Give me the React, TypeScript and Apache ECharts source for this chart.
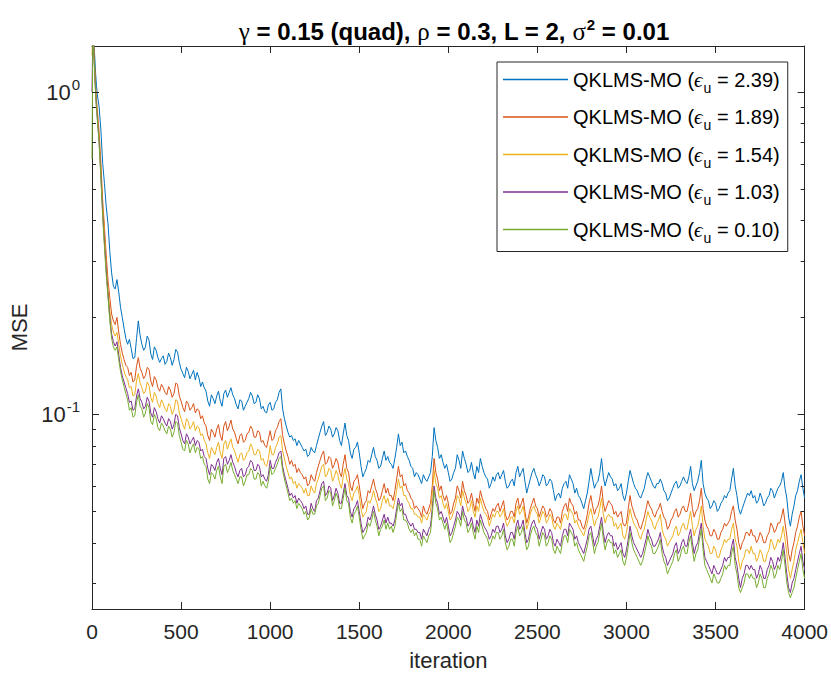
import React, { useEffect, useRef } from 'react';
import * as echarts from 'echarts';

// ---------- data ----------
const earlyIterations = [0, 5, 10, 15, 20, 25, 30, 40, 50, 60, 70, 80, 90, 100, 110, 120, 130, 140, 150, 160, 170, 180, 190];
const iterationStep = 10; // from 200 to 4000
const iterations: number[] = [...earlyIterations];
for (let it = 200; it <= 4000; it += iterationStep) iterations.push(it);

const epsLabels = ['2.39', '1.89', '1.54', '1.03', '0.10'];
const seriesColors = ['#0072BD', '#D95319', '#EDB120', '#7E2F8E', '#77AC30'];

const mseEps239 = [
  1.45, 1.52, 1.42, 1.30, 1.15, 1.05, 0.98, 0.90, 0.76, 0.60, 0.52, 0.44, 0.39, 0.32, 0.275, 0.25, 0.245, 0.262, 0.24, 0.215, 0.20, 0.185, 0.172,
  0.165, 0.171, 0.160, 0.149, 0.150, 0.172, 0.195, 0.176, 0.165, 0.158, 0.162, 0.175, 0.170, 0.154, 0.148, 0.162, 0.158, 0.150, 0.145, 0.149,
  0.152, 0.143, 0.146, 0.155, 0.150, 0.142, 0.148, 0.159, 0.156, 0.145, 0.138, 0.134, 0.130, 0.140, 0.136, 0.129, 0.133, 0.137, 0.128, 0.135,
  0.130, 0.122, 0.126, 0.121, 0.118, 0.110, 0.106, 0.115, 0.112, 0.108, 0.114, 0.118, 0.110, 0.106, 0.116, 0.119, 0.113, 0.117, 0.121, 0.115,
  0.112, 0.107, 0.104, 0.111, 0.110, 0.103, 0.106, 0.109, 0.112, 0.117, 0.114, 0.108, 0.109, 0.115, 0.112, 0.104, 0.106, 0.102, 0.101, 0.107,
  0.109, 0.103, 0.104, 0.109, 0.111, 0.117, 0.120, 0.104, 0.097, 0.092, 0.088, 0.085, 0.086, 0.083, 0.084, 0.080, 0.083, 0.081, 0.079, 0.077,
  0.078, 0.074, 0.075, 0.079, 0.077, 0.076, 0.080, 0.084, 0.088, 0.092, 0.095, 0.086, 0.088, 0.092, 0.090, 0.085, 0.087, 0.091, 0.089, 0.083,
  0.080, 0.087, 0.094, 0.086, 0.083, 0.076, 0.073, 0.078, 0.079, 0.082, 0.076, 0.069, 0.064, 0.066, 0.068, 0.072, 0.071, 0.075, 0.079, 0.074,
  0.072, 0.068, 0.069, 0.073, 0.077, 0.072, 0.074, 0.071, 0.070, 0.068, 0.073, 0.079, 0.087, 0.080, 0.082, 0.076, 0.077, 0.074, 0.072, 0.069,
  0.068, 0.064, 0.066, 0.065, 0.063, 0.061, 0.065, 0.063, 0.062, 0.064, 0.066, 0.074, 0.091, 0.083, 0.079, 0.073, 0.075, 0.071, 0.068, 0.070,
  0.066, 0.062, 0.063, 0.066, 0.068, 0.075, 0.072, 0.068, 0.077, 0.073, 0.070, 0.066, 0.067, 0.071, 0.066, 0.063, 0.069, 0.066, 0.073, 0.069,
  0.066, 0.064, 0.063, 0.059, 0.061, 0.064, 0.062, 0.065, 0.066, 0.063, 0.065, 0.067, 0.062, 0.059, 0.060, 0.062, 0.063, 0.060, 0.066, 0.069,
  0.064, 0.066, 0.068, 0.062, 0.057, 0.060, 0.063, 0.066, 0.068, 0.065, 0.063, 0.060, 0.062, 0.065, 0.064, 0.060, 0.061, 0.063, 0.062, 0.058,
  0.054, 0.056, 0.057, 0.055, 0.059, 0.061, 0.062, 0.059, 0.065, 0.063, 0.061, 0.057, 0.059, 0.056, 0.055, 0.053, 0.051, 0.054, 0.057, 0.062,
  0.068, 0.063, 0.059, 0.061, 0.062, 0.066, 0.073, 0.064, 0.060, 0.063, 0.066, 0.064, 0.063, 0.060, 0.061, 0.058, 0.059, 0.061, 0.056, 0.054,
  0.057, 0.062, 0.067, 0.064, 0.061, 0.059, 0.058, 0.056, 0.055, 0.057, 0.059, 0.063, 0.066, 0.064, 0.062, 0.060, 0.059, 0.061, 0.061, 0.063,
  0.061, 0.058, 0.057, 0.054, 0.055, 0.057, 0.059, 0.061, 0.062, 0.059, 0.060, 0.062, 0.064, 0.062, 0.061, 0.064, 0.069, 0.061, 0.058, 0.060,
  0.062, 0.066, 0.072, 0.061, 0.057, 0.055, 0.054, 0.051, 0.052, 0.054, 0.053, 0.050, 0.051, 0.053, 0.054, 0.056, 0.055, 0.057, 0.058, 0.063,
  0.068, 0.060, 0.056, 0.051, 0.049, 0.051, 0.053, 0.055, 0.057, 0.056, 0.058, 0.055, 0.056, 0.053, 0.054, 0.057, 0.055, 0.052, 0.053, 0.055,
  0.056, 0.059, 0.058, 0.055, 0.057, 0.059, 0.060, 0.062, 0.066, 0.059, 0.055, 0.048, 0.045, 0.049, 0.052, 0.056, 0.058, 0.062, 0.065, 0.059,
  0.055,
];

const mseEps189 = [
  1.40, 1.55, 1.38, 1.20, 1.05, 0.95, 0.88, 0.75, 0.60, 0.46, 0.38, 0.31, 0.26, 0.23, 0.205, 0.195, 0.19, 0.20, 0.18, 0.165, 0.155, 0.148, 0.142,
  0.140, 0.132, 0.135, 0.126, 0.128, 0.141, 0.150, 0.139, 0.135, 0.129, 0.132, 0.140, 0.138, 0.127, 0.122, 0.131, 0.128, 0.121, 0.118, 0.124,
  0.121, 0.117, 0.115, 0.122, 0.119, 0.113, 0.116, 0.125, 0.124, 0.114, 0.110, 0.105, 0.102, 0.110, 0.108, 0.103, 0.105, 0.108, 0.101, 0.104,
  0.103, 0.097, 0.099, 0.094, 0.092, 0.086, 0.083, 0.090, 0.088, 0.085, 0.090, 0.093, 0.086, 0.083, 0.092, 0.095, 0.089, 0.092, 0.096, 0.090,
  0.088, 0.084, 0.081, 0.086, 0.087, 0.082, 0.083, 0.087, 0.088, 0.092, 0.090, 0.085, 0.085, 0.089, 0.088, 0.082, 0.083, 0.080, 0.079, 0.084,
  0.089, 0.083, 0.084, 0.089, 0.091, 0.095, 0.097, 0.086, 0.081, 0.077, 0.074, 0.070, 0.072, 0.069, 0.070, 0.066, 0.068, 0.066, 0.065, 0.063,
  0.064, 0.060, 0.061, 0.065, 0.063, 0.062, 0.066, 0.069, 0.072, 0.075, 0.077, 0.070, 0.071, 0.074, 0.073, 0.068, 0.070, 0.073, 0.071, 0.066,
  0.064, 0.070, 0.075, 0.068, 0.066, 0.060, 0.058, 0.062, 0.063, 0.065, 0.060, 0.055, 0.051, 0.053, 0.054, 0.058, 0.057, 0.060, 0.063, 0.059,
  0.057, 0.054, 0.055, 0.058, 0.061, 0.057, 0.059, 0.056, 0.056, 0.054, 0.058, 0.063, 0.069, 0.064, 0.065, 0.060, 0.061, 0.058, 0.057, 0.055,
  0.054, 0.051, 0.052, 0.051, 0.050, 0.048, 0.052, 0.050, 0.049, 0.051, 0.053, 0.060, 0.073, 0.066, 0.063, 0.058, 0.060, 0.056, 0.054, 0.056,
  0.053, 0.049, 0.050, 0.053, 0.055, 0.060, 0.058, 0.055, 0.062, 0.058, 0.056, 0.053, 0.054, 0.057, 0.053, 0.050, 0.055, 0.053, 0.058, 0.055,
  0.053, 0.051, 0.050, 0.047, 0.049, 0.051, 0.050, 0.052, 0.053, 0.050, 0.052, 0.054, 0.049, 0.047, 0.048, 0.050, 0.050, 0.048, 0.053, 0.055,
  0.051, 0.053, 0.055, 0.050, 0.046, 0.048, 0.051, 0.053, 0.055, 0.052, 0.051, 0.048, 0.050, 0.052, 0.051, 0.048, 0.049, 0.051, 0.050, 0.047,
  0.046, 0.048, 0.048, 0.046, 0.050, 0.052, 0.053, 0.050, 0.055, 0.053, 0.052, 0.049, 0.050, 0.047, 0.047, 0.045, 0.044, 0.046, 0.049, 0.053,
  0.056, 0.052, 0.049, 0.051, 0.052, 0.055, 0.060, 0.053, 0.050, 0.052, 0.054, 0.053, 0.052, 0.049, 0.050, 0.048, 0.049, 0.050, 0.046, 0.045,
  0.046, 0.051, 0.056, 0.052, 0.050, 0.048, 0.047, 0.045, 0.044, 0.046, 0.048, 0.051, 0.054, 0.052, 0.051, 0.049, 0.048, 0.050, 0.051, 0.053,
  0.050, 0.048, 0.047, 0.044, 0.045, 0.047, 0.048, 0.050, 0.051, 0.048, 0.049, 0.051, 0.052, 0.050, 0.050, 0.053, 0.057, 0.051, 0.048, 0.050,
  0.051, 0.054, 0.059, 0.051, 0.047, 0.045, 0.044, 0.042, 0.042, 0.044, 0.043, 0.041, 0.041, 0.043, 0.044, 0.046, 0.045, 0.046, 0.047, 0.050,
  0.052, 0.047, 0.044, 0.040, 0.038, 0.040, 0.041, 0.043, 0.043, 0.042, 0.044, 0.042, 0.042, 0.040, 0.041, 0.043, 0.042, 0.040, 0.040, 0.042,
  0.043, 0.046, 0.045, 0.043, 0.044, 0.046, 0.046, 0.048, 0.051, 0.046, 0.042, 0.037, 0.035, 0.038, 0.040, 0.043, 0.045, 0.048, 0.050, 0.045,
  0.042,
];

const mseEps154 = [
  1.30, 1.55, 1.35, 1.18, 1.02, 0.92, 0.85, 0.72, 0.57, 0.44, 0.36, 0.29, 0.245, 0.21, 0.19, 0.18, 0.175, 0.18, 0.165, 0.152, 0.143, 0.136, 0.131,
  0.128, 0.121, 0.122, 0.114, 0.115, 0.127, 0.134, 0.125, 0.121, 0.116, 0.118, 0.126, 0.123, 0.113, 0.109, 0.117, 0.114, 0.108, 0.105, 0.111,
  0.108, 0.104, 0.102, 0.108, 0.106, 0.100, 0.103, 0.111, 0.110, 0.101, 0.097, 0.093, 0.090, 0.097, 0.095, 0.090, 0.092, 0.095, 0.089, 0.092,
  0.091, 0.086, 0.087, 0.083, 0.081, 0.076, 0.073, 0.079, 0.077, 0.075, 0.079, 0.082, 0.076, 0.073, 0.081, 0.083, 0.078, 0.081, 0.084, 0.079,
  0.077, 0.074, 0.071, 0.075, 0.076, 0.072, 0.073, 0.076, 0.077, 0.081, 0.079, 0.075, 0.075, 0.078, 0.077, 0.072, 0.073, 0.070, 0.069, 0.073,
  0.080, 0.075, 0.075, 0.079, 0.081, 0.085, 0.086, 0.077, 0.073, 0.069, 0.066, 0.063, 0.064, 0.061, 0.062, 0.059, 0.061, 0.060, 0.059, 0.057,
  0.059, 0.056, 0.056, 0.060, 0.058, 0.057, 0.061, 0.063, 0.066, 0.069, 0.070, 0.064, 0.065, 0.068, 0.067, 0.062, 0.064, 0.067, 0.065, 0.061,
  0.059, 0.064, 0.068, 0.063, 0.061, 0.056, 0.054, 0.057, 0.058, 0.060, 0.056, 0.051, 0.048, 0.049, 0.050, 0.054, 0.053, 0.055, 0.058, 0.055,
  0.053, 0.050, 0.051, 0.054, 0.056, 0.053, 0.055, 0.052, 0.052, 0.051, 0.054, 0.058, 0.063, 0.059, 0.060, 0.056, 0.056, 0.054, 0.053, 0.051,
  0.051, 0.049, 0.049, 0.048, 0.048, 0.046, 0.049, 0.048, 0.047, 0.049, 0.050, 0.057, 0.067, 0.061, 0.059, 0.055, 0.056, 0.053, 0.051, 0.053,
  0.050, 0.047, 0.048, 0.050, 0.052, 0.056, 0.055, 0.052, 0.058, 0.055, 0.053, 0.050, 0.051, 0.054, 0.050, 0.048, 0.052, 0.050, 0.055, 0.052,
  0.050, 0.049, 0.048, 0.045, 0.047, 0.049, 0.048, 0.050, 0.050, 0.048, 0.049, 0.051, 0.047, 0.045, 0.046, 0.048, 0.048, 0.046, 0.050, 0.052,
  0.049, 0.050, 0.052, 0.048, 0.044, 0.046, 0.049, 0.051, 0.052, 0.050, 0.049, 0.046, 0.048, 0.050, 0.049, 0.046, 0.047, 0.049, 0.048, 0.045,
  0.044, 0.046, 0.045, 0.044, 0.047, 0.049, 0.049, 0.047, 0.051, 0.050, 0.049, 0.046, 0.047, 0.045, 0.044, 0.043, 0.042, 0.044, 0.046, 0.049,
  0.051, 0.048, 0.045, 0.047, 0.048, 0.051, 0.055, 0.049, 0.046, 0.048, 0.049, 0.048, 0.048, 0.045, 0.046, 0.044, 0.045, 0.046, 0.042, 0.041,
  0.043, 0.047, 0.051, 0.048, 0.046, 0.045, 0.044, 0.042, 0.041, 0.043, 0.044, 0.047, 0.050, 0.048, 0.047, 0.045, 0.044, 0.046, 0.047, 0.049,
  0.044, 0.042, 0.041, 0.039, 0.040, 0.041, 0.042, 0.044, 0.045, 0.042, 0.043, 0.045, 0.046, 0.044, 0.044, 0.047, 0.050, 0.045, 0.042, 0.044,
  0.045, 0.048, 0.052, 0.045, 0.041, 0.040, 0.039, 0.037, 0.037, 0.039, 0.038, 0.036, 0.036, 0.038, 0.039, 0.041, 0.040, 0.041, 0.041, 0.044,
  0.046, 0.041, 0.039, 0.035, 0.033, 0.035, 0.036, 0.038, 0.038, 0.037, 0.039, 0.037, 0.037, 0.035, 0.036, 0.038, 0.037, 0.035, 0.035, 0.037,
  0.038, 0.041, 0.040, 0.038, 0.039, 0.041, 0.040, 0.042, 0.045, 0.041, 0.037, 0.033, 0.031, 0.033, 0.035, 0.038, 0.040, 0.042, 0.044, 0.040,
  0.037,
];

const mseEps103 = [
  1.00, 1.55, 1.33, 1.16, 1.00, 0.90, 0.83, 0.70, 0.55, 0.42, 0.34, 0.28, 0.235, 0.20, 0.178, 0.168, 0.163, 0.168, 0.153, 0.14, 0.132, 0.126, 0.121,
  0.116, 0.109, 0.110, 0.103, 0.104, 0.114, 0.120, 0.112, 0.109, 0.104, 0.106, 0.113, 0.110, 0.101, 0.098, 0.105, 0.102, 0.097, 0.094, 0.099,
  0.097, 0.094, 0.092, 0.097, 0.095, 0.090, 0.093, 0.100, 0.099, 0.091, 0.087, 0.083, 0.081, 0.087, 0.085, 0.081, 0.083, 0.085, 0.080, 0.083,
  0.082, 0.077, 0.078, 0.074, 0.073, 0.068, 0.065, 0.070, 0.069, 0.067, 0.071, 0.073, 0.068, 0.065, 0.073, 0.074, 0.070, 0.072, 0.075, 0.071,
  0.069, 0.066, 0.064, 0.067, 0.068, 0.064, 0.065, 0.068, 0.069, 0.072, 0.071, 0.067, 0.067, 0.070, 0.069, 0.064, 0.065, 0.063, 0.062, 0.065,
  0.072, 0.068, 0.068, 0.071, 0.073, 0.076, 0.077, 0.069, 0.065, 0.062, 0.059, 0.056, 0.057, 0.055, 0.056, 0.053, 0.055, 0.054, 0.053, 0.051,
  0.052, 0.049, 0.049, 0.053, 0.051, 0.050, 0.054, 0.055, 0.058, 0.061, 0.062, 0.056, 0.057, 0.060, 0.059, 0.054, 0.056, 0.059, 0.057, 0.053,
  0.053, 0.057, 0.061, 0.056, 0.055, 0.050, 0.048, 0.051, 0.052, 0.054, 0.050, 0.046, 0.043, 0.044, 0.045, 0.048, 0.047, 0.049, 0.052, 0.049,
  0.047, 0.044, 0.045, 0.047, 0.049, 0.046, 0.048, 0.046, 0.046, 0.045, 0.047, 0.051, 0.055, 0.052, 0.053, 0.049, 0.049, 0.047, 0.046, 0.045,
  0.046, 0.044, 0.044, 0.043, 0.043, 0.041, 0.044, 0.043, 0.042, 0.044, 0.045, 0.051, 0.060, 0.055, 0.053, 0.049, 0.050, 0.048, 0.046, 0.048,
  0.045, 0.042, 0.043, 0.045, 0.047, 0.050, 0.049, 0.047, 0.052, 0.049, 0.048, 0.045, 0.046, 0.048, 0.045, 0.043, 0.047, 0.045, 0.049, 0.047,
  0.045, 0.044, 0.043, 0.041, 0.042, 0.044, 0.043, 0.045, 0.045, 0.043, 0.044, 0.046, 0.042, 0.040, 0.041, 0.043, 0.043, 0.041, 0.045, 0.047,
  0.044, 0.045, 0.047, 0.043, 0.040, 0.041, 0.044, 0.046, 0.047, 0.045, 0.044, 0.041, 0.043, 0.045, 0.044, 0.041, 0.042, 0.044, 0.043, 0.040,
  0.039, 0.041, 0.040, 0.039, 0.042, 0.044, 0.044, 0.042, 0.046, 0.045, 0.044, 0.041, 0.042, 0.040, 0.039, 0.038, 0.037, 0.039, 0.041, 0.044,
  0.045, 0.042, 0.039, 0.041, 0.042, 0.045, 0.048, 0.043, 0.040, 0.042, 0.043, 0.042, 0.042, 0.039, 0.040, 0.038, 0.039, 0.040, 0.037, 0.036,
  0.038, 0.041, 0.045, 0.042, 0.040, 0.039, 0.038, 0.037, 0.036, 0.037, 0.039, 0.041, 0.044, 0.042, 0.041, 0.039, 0.039, 0.040, 0.041, 0.043,
  0.039, 0.037, 0.036, 0.034, 0.035, 0.036, 0.037, 0.039, 0.040, 0.037, 0.038, 0.040, 0.041, 0.039, 0.039, 0.042, 0.044, 0.040, 0.037, 0.039,
  0.040, 0.043, 0.046, 0.040, 0.036, 0.035, 0.034, 0.033, 0.032, 0.034, 0.033, 0.032, 0.032, 0.033, 0.034, 0.036, 0.035, 0.036, 0.036, 0.039,
  0.041, 0.036, 0.034, 0.031, 0.029, 0.031, 0.032, 0.034, 0.034, 0.033, 0.034, 0.033, 0.033, 0.031, 0.032, 0.034, 0.033, 0.031, 0.031, 0.033,
  0.034, 0.036, 0.035, 0.033, 0.034, 0.036, 0.035, 0.037, 0.040, 0.036, 0.032, 0.029, 0.028, 0.030, 0.031, 0.033, 0.035, 0.037, 0.039, 0.035,
  0.033,
];

const mseEps010 = [
  0.62, 1.55, 1.32, 1.15, 0.99, 0.89, 0.82, 0.69, 0.54, 0.41, 0.33, 0.27, 0.23, 0.195, 0.172, 0.162, 0.158, 0.162, 0.148, 0.136, 0.128, 0.122, 0.116,
  0.111, 0.103, 0.105, 0.098, 0.099, 0.109, 0.115, 0.106, 0.104, 0.098, 0.101, 0.108, 0.105, 0.095, 0.093, 0.100, 0.097, 0.091, 0.089, 0.094,
  0.092, 0.089, 0.087, 0.092, 0.090, 0.085, 0.088, 0.095, 0.094, 0.086, 0.082, 0.078, 0.077, 0.083, 0.081, 0.076, 0.079, 0.081, 0.076, 0.079,
  0.078, 0.073, 0.074, 0.070, 0.069, 0.063, 0.061, 0.066, 0.065, 0.063, 0.067, 0.069, 0.064, 0.061, 0.069, 0.070, 0.066, 0.068, 0.071, 0.067,
  0.065, 0.063, 0.061, 0.064, 0.064, 0.060, 0.062, 0.065, 0.065, 0.068, 0.067, 0.063, 0.063, 0.066, 0.065, 0.060, 0.062, 0.060, 0.059, 0.062,
  0.069, 0.065, 0.066, 0.068, 0.070, 0.073, 0.074, 0.067, 0.063, 0.060, 0.057, 0.054, 0.055, 0.053, 0.054, 0.051, 0.053, 0.052, 0.051, 0.049,
  0.050, 0.047, 0.048, 0.051, 0.049, 0.049, 0.052, 0.053, 0.056, 0.059, 0.060, 0.054, 0.055, 0.058, 0.057, 0.052, 0.054, 0.057, 0.055, 0.051,
  0.051, 0.055, 0.059, 0.054, 0.053, 0.048, 0.046, 0.049, 0.050, 0.052, 0.048, 0.044, 0.041, 0.042, 0.043, 0.046, 0.045, 0.047, 0.050, 0.047,
  0.045, 0.042, 0.044, 0.045, 0.047, 0.044, 0.046, 0.044, 0.045, 0.043, 0.045, 0.049, 0.053, 0.050, 0.051, 0.047, 0.047, 0.046, 0.044, 0.043,
  0.044, 0.042, 0.043, 0.041, 0.041, 0.039, 0.042, 0.041, 0.040, 0.042, 0.043, 0.049, 0.058, 0.053, 0.051, 0.047, 0.048, 0.046, 0.044, 0.046,
  0.043, 0.040, 0.041, 0.043, 0.045, 0.048, 0.047, 0.045, 0.050, 0.047, 0.046, 0.043, 0.044, 0.046, 0.043, 0.041, 0.045, 0.043, 0.047, 0.045,
  0.043, 0.042, 0.041, 0.039, 0.040, 0.042, 0.041, 0.043, 0.043, 0.041, 0.042, 0.044, 0.040, 0.038, 0.039, 0.041, 0.041, 0.039, 0.043, 0.045,
  0.042, 0.043, 0.045, 0.041, 0.038, 0.039, 0.042, 0.044, 0.045, 0.043, 0.042, 0.039, 0.041, 0.043, 0.042, 0.039, 0.040, 0.042, 0.041, 0.038,
  0.037, 0.039, 0.038, 0.037, 0.040, 0.042, 0.042, 0.040, 0.044, 0.043, 0.042, 0.039, 0.040, 0.038, 0.037, 0.036, 0.035, 0.037, 0.039, 0.042,
  0.043, 0.040, 0.037, 0.039, 0.040, 0.043, 0.046, 0.041, 0.038, 0.040, 0.041, 0.040, 0.040, 0.037, 0.038, 0.036, 0.037, 0.038, 0.035, 0.034,
  0.036, 0.039, 0.043, 0.040, 0.038, 0.037, 0.036, 0.035, 0.034, 0.035, 0.037, 0.039, 0.042, 0.040, 0.039, 0.037, 0.037, 0.038, 0.039, 0.041,
  0.037, 0.035, 0.034, 0.032, 0.033, 0.034, 0.035, 0.037, 0.038, 0.035, 0.036, 0.038, 0.039, 0.037, 0.037, 0.040, 0.042, 0.038, 0.035, 0.037,
  0.038, 0.041, 0.044, 0.038, 0.034, 0.033, 0.032, 0.031, 0.030, 0.032, 0.031, 0.030, 0.030, 0.031, 0.032, 0.034, 0.033, 0.034, 0.034, 0.037,
  0.039, 0.034, 0.032, 0.029, 0.028, 0.029, 0.030, 0.032, 0.032, 0.031, 0.032, 0.031, 0.031, 0.029, 0.030, 0.032, 0.031, 0.029, 0.029, 0.031,
  0.032, 0.034, 0.033, 0.031, 0.032, 0.034, 0.033, 0.035, 0.038, 0.034, 0.030, 0.028, 0.027, 0.028, 0.029, 0.031, 0.033, 0.035, 0.037, 0.033,
  0.031,
];

const mseSeries = [mseEps239, mseEps189, mseEps154, mseEps103, mseEps010];

const yMajorTicks = [0.1, 1];
const yMinorTicks = [0.03, 0.04, 0.05, 0.06, 0.07, 0.08, 0.09, 0.2, 0.3, 0.4, 0.5, 0.6, 0.7, 0.8, 0.9];

const xMin = 0;
const xMax = 4000;
const xInterval = 500;
const yMin = 0.0249;
const yMax = 1.39;

const titleText = '{g|γ} = 0.15 (quad), {g|ρ} = 0.3, L = 2, {g|σ}{s|2} = 0.01';

// ---------- chart ----------
const FONT = '"Liberation Sans", Arial, Helvetica, sans-serif';
const SERIF = '"Liberation Serif", "DejaVu Serif", serif';
const AX = '#262626';

export default function App() {
  const ref = useRef<HTMLDivElement>(null);

  useEffect(() => {
    if (!ref.current) return;
    const chart = echarts.init(ref.current, undefined, { renderer: 'svg' });

    const names = epsLabels.map((v) => `QKLMS-MO (ϵu = ${v})`);

    const lineSeries = mseSeries.map((arr, k) => ({
      type: 'line',
      name: names[k],
      data: iterations.slice(0, arr.length).map((it, i) => [it, arr[i]]),
      showSymbol: false,
      symbol: 'none',
      lineStyle: { width: 1, color: seriesColors[k] },
      itemStyle: { color: seriesColors[k] },
      color: seriesColors[k],
      xAxisIndex: 0,
      yAxisIndex: 0,
      z: 2 + k,
      emphasis: { disabled: true },
    }));

    const tickData = [
      ...yMajorTicks.map((v) => [0, v, 1]),
      ...yMinorTicks.map((v) => [0, v, 0]),
    ];

    const tickSeries = {
      type: 'custom',
      name: 'yticks',
      silent: true,
      z: 20,
      xAxisIndex: 0,
      yAxisIndex: 0,
      data: tickData,
      renderItem: (params: any, api: any) => {
        const v = api.value(1);
        const major = api.value(2) === 1;
        const p = api.coord([0, v]);
        const cs = params.coordSys;
        const len = major ? 7 : 4;
        const y = Math.round(p[1]) + 0.5;
        const st = { stroke: AX, lineWidth: 1 };
        return {
          type: 'group',
          children: [
            { type: 'line', shape: { x1: cs.x, y1: y, x2: cs.x + len, y2: y }, style: st },
            { type: 'line', shape: { x1: cs.x + cs.width, y1: y, x2: cs.x + cs.width - len, y2: y }, style: st },
          ],
        };
      },
    };

    const option: any = {
      animation: false,
      backgroundColor: '#ffffff',
      title: {
        text: titleText,
        left: 449,
        top: 12,
        textAlign: 'center',
        textStyle: {
          fontFamily: FONT,
          fontSize: 24,
          fontWeight: 'bold',
          color: '#000',
          rich: {
            g: { fontFamily: SERIF, fontSize: 25, fontWeight: 'normal', color: '#000' },
            s: { fontFamily: FONT, fontSize: 15, fontWeight: 'bold', color: '#000', padding: [0, 0, 14, 1] },
          },
        },
      },
      grid: { left: 92, right: 25, top: 46, bottom: 68, containLabel: false },
      legend: {
        data: names,
        orient: 'vertical',
        left: 497,
        top: 62,
        padding: [7, 8, 7, 6],
        itemGap: 12,
        itemWidth: 65,
        itemHeight: 1.5,
        icon: 'rect',
        backgroundColor: '#ffffff',
        borderColor: AX,
        borderWidth: 1,
        borderRadius: 0,
        selectedMode: false,
        formatter: (name: string) => {
          const m = name.match(/= ([0-9.]+)\)/);
          const v = m ? m[1] : '';
          return `QKLMS-MO ({e|ϵ}{u|u} = ${v})`;
        },
        textStyle: {
          fontFamily: FONT,
          fontSize: 20,
          color: '#000',
          rich: {
            e: { fontFamily: SERIF, fontStyle: 'italic', fontSize: 21, color: '#000' },
            u: { fontFamily: FONT, fontSize: 14, color: '#000', padding: [16, 0, 0, 1], verticalAlign: 'bottom' },
          },
        },
      },
      xAxis: [
        {
          type: 'value',
          position: 'bottom',
          min: xMin,
          max: xMax,
          interval: xInterval,
          name: 'iteration',
          nameLocation: 'middle',
          nameGap: 40,
          nameTextStyle: { fontFamily: FONT, fontSize: 22, color: AX },
          axisLine: { show: true, onZero: false, lineStyle: { color: AX, width: 1 } },
          axisTick: { show: true, inside: true, length: 7, lineStyle: { color: AX, width: 1 } },
          axisLabel: { fontFamily: FONT, fontSize: 21, color: AX, margin: 12, formatter: (v: number) => String(v) },
          splitLine: { show: false },
        },
        {
          type: 'value',
          position: 'top',
          min: xMin,
          max: xMax,
          interval: xInterval,
          axisLine: { show: true, onZero: false, lineStyle: { color: AX, width: 1 } },
          axisTick: { show: true, inside: true, length: 7, lineStyle: { color: AX, width: 1 } },
          axisLabel: { show: false },
          splitLine: { show: false },
        },
      ],
      yAxis: [
        {
          type: 'log',
          logBase: 10,
          position: 'left',
          min: yMin,
          max: yMax,
          name: 'MSE',
          nameLocation: 'middle',
          nameGap: 60,
          nameRotate: 90,
          nameTextStyle: { fontFamily: FONT, fontSize: 22, color: AX },
          axisLine: { show: true, onZero: false, lineStyle: { color: AX, width: 1 } },
          axisTick: { show: false },
          splitLine: { show: false },
          minorTick: { show: false },
          axisLabel: {
            margin: 12,
            fontFamily: FONT,
            color: AX,
            formatter: (val: number) => {
              const e = Math.log10(val);
              const r = Math.round(e);
              if (Math.abs(e - r) < 1e-6) return `{b|10}{s|${r}}`;
              return '';
            },
            rich: {
              b: { fontFamily: FONT, fontSize: 22, color: AX },
              s: { fontFamily: FONT, fontSize: 15, color: AX, padding: [0, 0, 15, 1] },
            },
          },
        },
        {
          type: 'log',
          logBase: 10,
          position: 'right',
          min: yMin,
          max: yMax,
          axisLine: { show: true, onZero: false, lineStyle: { color: AX, width: 1 } },
          axisTick: { show: false },
          axisLabel: { show: false },
          splitLine: { show: false },
        },
      ],
      series: [...lineSeries, tickSeries],
    };

    chart.setOption(option);
    return () => chart.dispose();
  }, []);

  return (
    <div
      ref={ref}
      style={{ position: 'absolute', left: 0, top: 0, width: 831, height: 677, background: '#fff' }}
    />
  );
}
